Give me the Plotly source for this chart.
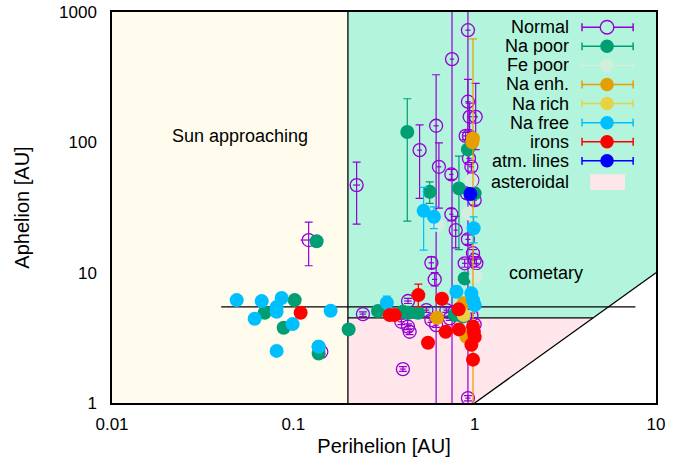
import numpy as np
import plotly.graph_objects as go

# ---------------- data (perihelion q [AU], aphelion Q [AU], Q lower/upper bound) -------------
normal_q   = [0.1215, 0.1427, 0.2234, 0.242, 0.429, 0.394, 0.429, 0.438, 0.402, 0.542, 0.577, 0.613,
              0.698, 0.728, 0.776, 0.827, 0.577, 0.602, 0.497, 0.635, 0.613, 0.750, 0.744, 0.918,
              0.918, 0.938, 1.013, 0.892, 0.930, 0.930, 0.971, 0.959, 0.907, 1.0, 0.744, 0.786,
              0.918, 0.881, 0.979, 1.0, 1.022, 0.918, 0.959, 1.0]
normal_Q   = [17.8, 2.47, 47.0, 4.81, 6.06, 4.20, 3.85, 3.52, 1.82, 5.16, 4.33, 3.96,
              5.16, 4.46, 5.01, 4.87, 11.9, 8.88, 87.1, 64.9, 134, 435, 56.7, 725,
              205, 157, 157, 112, 112, 75.3, 51.3, 65, 40.5, 36, 28.1, 21.2,
              18.0, 11.8, 14.1, 12.5, 11.8, 1.09, 4.7, 4.0]
normal_Qlo = [11.3, 2.38, 23.6, 4.6, 5.8, 4.0, 3.65, 3.35, 1.75, 4.95, 4.15, 3.8,
              4.95, 4.3, 4.8, 4.65, 10.8, 7.9, 37.2, 31.3, 0.5, 0.5, 52, 0.5,
              120, 120, 88, 105, 105, 70, 47, 60, 37, 33, 25, 15.5,
              16.5, 11, 13.2, 11.7, 11, 1.04, 4.5, 3.8]
normal_Qhi = [24.4, 2.56, 70.5, 5.0, 6.35, 4.4, 4.05, 3.7, 1.9, 5.4, 4.5, 4.15,
              5.4, 4.65, 5.2, 5.1, 13.2, 10.0, 136, 99, 330, 5000, 62, 5000,
              304, 200, 283, 119, 119, 81, 56, 70, 44, 39, 31, 27,
              19.5, 12.7, 15, 13.3, 12.7, 1.14, 4.9, 4.2]
normal_qerr = [0.012, 0.006, 0.01, 0.01, 0.02, 0.015, 0.015, 0.015, 0.015, 0.02, 0.02, 0.02,
               0.025, 0.025, 0.025, 0.03, 0.02, 0.02, 0.015, 0.02, 0.02, 0.02, 0.02, 0.03,
               0.03, 0.03, 0.03, 0.03, 0.03, 0.03, 0.03, 0.03, 0.03, 0.03, 0.02, 0.02,
               0.03, 0.03, 0.03, 0.03, 0.03, 0.03, 0.03, 0.03]

napoor_q   = [0.0695, 0.1017, 0.0884, 0.1379, 0.1379, 0.2018, 0.1344, 0.293, 0.402, 0.429, 0.487,
              0.425, 0.565, 0.819, 0.918, 0.881, 0.776, 1.0, 0.862]
napoor_Q   = [4.93, 6.16, 3.78, 2.70, 2.40, 3.67, 17.4, 5.08, 5.01, 4.93, 4.93,
              120, 41.7, 44.3, 88.3, 9.04, 4.73, 40.6, 4.6]
napoor_Qlo = [4.93, 6.16, 3.78, 2.70, 2.40, 3.67, 17.4, 5.08, 5.01, 4.93, 4.93,
              24.9, 34, 15, 88.3, 9.04, 4.73, 40.6, 4.6]
napoor_Qhi = [4.93, 6.16, 3.78, 2.70, 2.40, 3.67, 17.4, 5.08, 5.01, 4.93, 4.93,
              216, 49.8, 78.4, 88.3, 9.04, 4.73, 40.6, 4.6]

fepoor_q   = [0.627, 0.918, 1.013, 0.959]
fepoor_Q   = [23.2, 28.5, 9.3, 51]

naenh_q    = [0.979, 0.971, 0.870, 0.620, 0.900]
naenh_Q    = [107, 100, 5.82, 4.51, 3.22]
naenh_Qlo  = [0.5, 100, 5.82, 4.51, 3.22]
naenh_Qhi  = [622, 100, 5.82, 4.51, 3.22]

narich_q   = [0.870]
narich_Q   = [4.73]

nafree_q   = [0.0487, 0.0669, 0.0862, 0.0809, 0.0809, 0.0612, 0.1606, 0.0991, 0.0809, 0.1379,
              0.328, 0.793, 0.959, 0.979, 1.0, 0.523, 0.596, 0.987]
nafree_Q   = [6.16, 6.05, 6.39, 5.45, 5.01, 4.43, 5.10, 4.03, 2.51, 2.70,
              5.88, 7.14, 6.94, 6.16, 5.65, 29.8, 26.8, 21.9]
nafree_Qlo = [6.16, 6.05, 6.39, 5.45, 5.01, 4.43, 5.10, 4.03, 2.51, 2.70,
              5.6, 6.8, 6.94, 6.16, 5.65, 14.9, 21.8, 16.9]
nafree_Qhi = [6.16, 6.05, 6.39, 5.45, 5.01, 4.43, 5.10, 4.03, 2.51, 2.70,
              6.6, 7.9, 6.94, 6.16, 5.65, 45.1, 32, 26.8]

irons_q    = [0.1097, 0.340, 0.362, 0.489, 0.66, 0.816, 0.553, 0.692, 0.819, 0.979, 1.0, 0.99, 0.959, 0.979]
irons_Q    = [4.93, 4.73, 4.73, 6.73, 6.3, 5.23, 2.90, 3.52, 3.67, 3.85, 3.2, 3.5, 2.8, 2.15]
irons_Qlo  = [4.93, 4.73, 4.73, 5.48, 6.3, 5.23, 2.90, 3.52, 3.67, 3.85, 3.2, 3.5, 2.8, 2.15]
irons_Qhi  = [4.93, 4.73, 4.73, 8.18, 6.3, 5.23, 2.90, 3.52, 3.67, 3.85, 3.2, 3.5, 2.8, 2.15]

atm_q      = [0.947]
atm_Q      = [40.1]

legend_labels = ["Normal", "Na poor", "Fe poor", "Na enh.", "Na rich", "Na free", "irons", "atm. lines"]

# region boundaries
Q_SUN_LIMIT = 0.2     # perihelion limit of "Sun approaching"
Q_AST = 4.5           # aphelion limit of asteroidal orbits
Q_JUP = 5.46
JUP_LINE_Q = [0.04, 7.7]

FONT = "Liberation Sans, Arial, sans-serif"
C_NORMAL = "#9400d3"
C_NAPOOR = "#009e73"
C_FEPOOR = "#d2eedd"
C_NAENH = "#e69f00"
C_NARICH = "#e6d245"
C_NAFREE = "#00bfff"
C_IRON = "#ff0000"
C_ATM = "#0000ff"
C_SUN = "#fffcee"
C_COMET = "#b2f5dc"
C_AST = "#ffe6ea"

fig = go.Figure()

# background regions
fig.add_trace(go.Scatter(x=[0.01, Q_SUN_LIMIT, Q_SUN_LIMIT, 0.01], y=[1, 1, 1000, 1000],
                         fill="toself", fillcolor=C_SUN, mode="none", showlegend=False, hoverinfo="skip"))
fig.add_trace(go.Scatter(x=[Q_SUN_LIMIT, Q_AST, 10, 10, Q_SUN_LIMIT], y=[Q_AST, Q_AST, 10, 1000, 1000],
                         fill="toself", fillcolor=C_COMET, mode="none", showlegend=False, hoverinfo="skip"))
fig.add_trace(go.Scatter(x=[Q_SUN_LIMIT, 1, Q_AST, Q_SUN_LIMIT], y=[1, 1, Q_AST, Q_AST],
                         fill="toself", fillcolor=C_AST, mode="none", showlegend=False, hoverinfo="skip"))

# boundary lines
line_kw = dict(mode="lines", line=dict(color="black", width=1.3), showlegend=False, hoverinfo="skip")
fig.add_trace(go.Scatter(x=[Q_SUN_LIMIT, Q_SUN_LIMIT], y=[1, 1000], **line_kw))
fig.add_trace(go.Scatter(x=[Q_SUN_LIMIT, Q_AST], y=[Q_AST, Q_AST], **line_kw))
fig.add_trace(go.Scatter(x=[1, 10], y=[1, 10], **line_kw))
fig.add_trace(go.Scatter(x=JUP_LINE_Q, y=[Q_JUP, Q_JUP], **line_kw))

# ---- gnuplot-style key (text left, sample right), placed in paper coordinates ----
KEY_TEXT_X = 0.842
KEY_LINE_X0, KEY_LINE_X1, KEY_MARK_X = 0.864, 0.958, 0.910
KEY_TOP, KEY_STEP = 0.961, 0.0488
MARK_RX, MARK_RY = 0.0125, 0.0172
key_row = [0]


def add_key(name, color, open_marker):
    i = key_row[0]
    key_row[0] += 1
    yc = KEY_TOP - i * KEY_STEP
    lk = dict(type="line", xref="paper", yref="paper", line=dict(color=color, width=1.5), layer="above")
    fig.add_shape(x0=KEY_LINE_X0, x1=KEY_LINE_X1, y0=yc, y1=yc, **lk)
    for xx in (KEY_LINE_X0, KEY_LINE_X1):
        fig.add_shape(x0=xx, x1=xx, y0=yc - 0.01, y1=yc + 0.01, **lk)
    if open_marker:
        fig.add_shape(type="circle", xref="paper", yref="paper", layer="above",
                      x0=KEY_MARK_X - MARK_RX, x1=KEY_MARK_X + MARK_RX, y0=yc - MARK_RY, y1=yc + MARK_RY,
                      line=dict(color=color, width=1.4), fillcolor=C_COMET)
    else:
        fig.add_shape(type="circle", xref="paper", yref="paper", layer="above",
                      x0=KEY_MARK_X - MARK_RX, x1=KEY_MARK_X + MARK_RX, y0=yc - MARK_RY, y1=yc + MARK_RY,
                      line=dict(width=0), fillcolor=color)
    fig.add_annotation(xref="paper", yref="paper", x=KEY_TEXT_X, y=yc, xanchor="right", yanchor="middle",
                       text=name, showarrow=False, height=18, borderpad=0,
                       font=dict(family=FONT, size=18, color="black"))


def add_series(name, color, q, Q, Qlo=None, Qhi=None, qerr=None, open_marker=False):
    Q = np.array(Q, float)
    Qlo = Q if Qlo is None else np.array(Qlo, float)
    Qhi = Q if Qhi is None else np.array(Qhi, float)
    ey = dict(type="data", array=Qhi - Q, arrayminus=Q - Qlo, color=color, thickness=1.2, width=4)
    ex = None
    if qerr is not None:
        ex = dict(type="data", array=qerr, color=color, thickness=1.2, width=0)
    if open_marker:
        marker = dict(symbol="circle-open", size=13, color=color, line=dict(width=1.3, color=color))
    else:
        marker = dict(symbol="circle", size=14, color=color, line=dict(width=0))
    fig.add_trace(go.Scatter(x=q, y=Q, mode="markers", marker=marker, error_y=ey, error_x=ex,
                             showlegend=False, name=name))
    add_key(name, color, open_marker)


add_series(legend_labels[0], C_NORMAL, normal_q, normal_Q, normal_Qlo, normal_Qhi, normal_qerr, open_marker=True)
add_series(legend_labels[1], C_NAPOOR, napoor_q, napoor_Q, napoor_Qlo, napoor_Qhi)
add_series(legend_labels[2], C_FEPOOR, fepoor_q, fepoor_Q)
add_series(legend_labels[3], C_NAENH, naenh_q, naenh_Q, naenh_Qlo, naenh_Qhi)
add_series(legend_labels[4], C_NARICH, narich_q, narich_Q)
add_series(legend_labels[5], C_NAFREE, nafree_q, nafree_Q, nafree_Qlo, nafree_Qhi)
add_series(legend_labels[6], C_IRON, irons_q, irons_Q, irons_Qlo, irons_Qhi)
add_series(legend_labels[7], C_ATM, atm_q, atm_Q)

# asteroidal key entry
AST_Y = 0.565
fig.add_shape(type="rect", xref="paper", yref="paper", layer="above", x0=0.879, x1=0.943,
              y0=AST_Y - 0.02, y1=AST_Y + 0.02, line=dict(width=0), fillcolor=C_AST)
fig.add_annotation(xref="paper", yref="paper", x=KEY_TEXT_X, y=AST_Y, xanchor="right", yanchor="middle",
                   text="asteroidal", showarrow=False, height=18, borderpad=0,
                   font=dict(family=FONT, size=18, color="black"))

fig.add_annotation(x=np.log10(0.0506), y=np.log10(111.6), text="Sun approaching", showarrow=False,
                   font=dict(family=FONT, size=18, color="black"))
fig.add_annotation(x=np.log10(2.46), y=np.log10(9.93), text="cometary", showarrow=False,
                   font=dict(family=FONT, size=18, color="black"))

axis_common = dict(type="log", showgrid=False, zeroline=False, showline=True, mirror=True,
                   linecolor="black", linewidth=1.5, ticks="", automargin=False,
                   tickfont=dict(family=FONT, size=17, color="black"))
fig.update_xaxes(range=[-2, 1], tickvals=[0.01, 0.1, 1, 10], ticktext=["0.01", "0.1", "1", "10"],
                 ticklabelstandoff=5,
                 title=dict(text="Perihelion [AU]", font=dict(family=FONT, size=20, color="black"), standoff=6),
                 **axis_common)
fig.update_yaxes(range=[0, 3], tickvals=[1, 10, 100, 1000], ticktext=["1", "10", "100", "1000"],
                 ticklabelstandoff=10,
                 title=dict(text="Aphelion [AU]", font=dict(family=FONT, size=20, color="black"), standoff=24),
                 **axis_common)

fig.update_layout(
    width=688, height=468,
    margin=dict(l=112, r=32, t=12, b=65),
    paper_bgcolor="white", plot_bgcolor="white",
    font=dict(family=FONT, size=17, color="black"),
    showlegend=False,
)

fig.write_html("out.html")
